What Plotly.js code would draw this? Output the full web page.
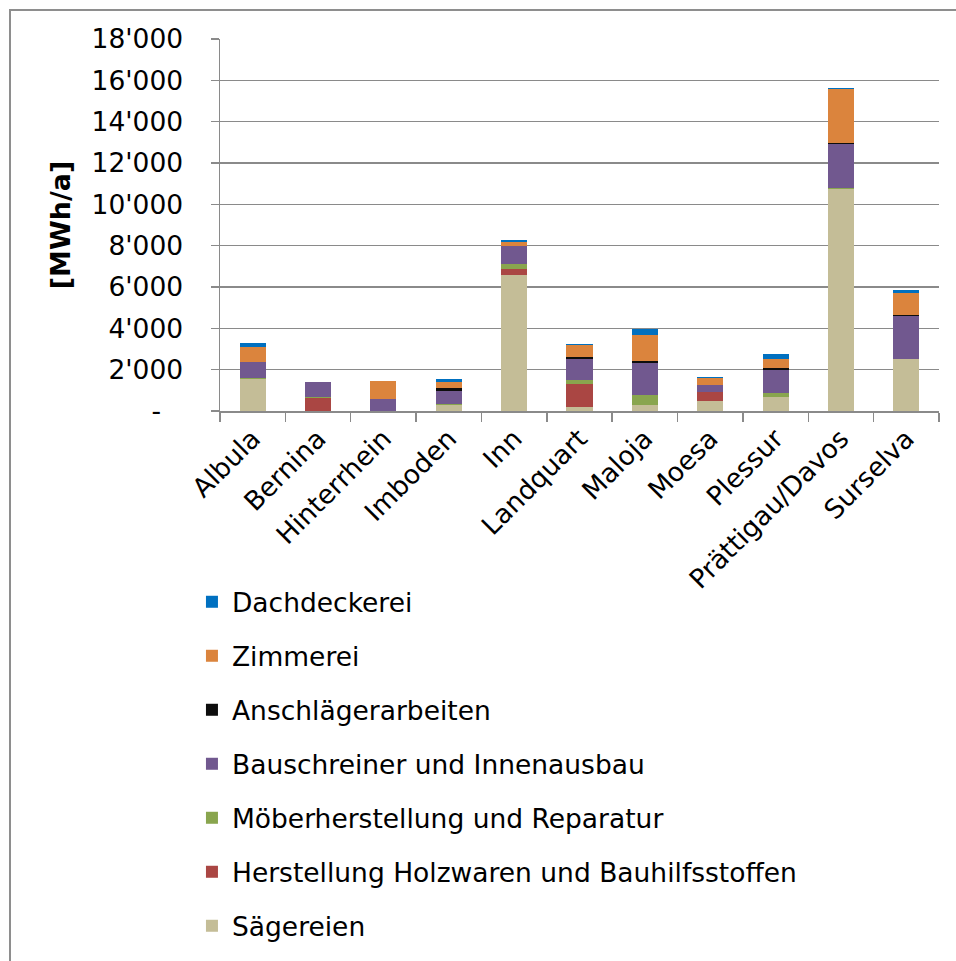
<!DOCTYPE html>
<html>
<head>
<meta charset="utf-8">
<script src="https://cdn.plot.ly/plotly-3.0.1.min.js"></script>
<style>
  html, body { margin: 0; padding: 0; background: #fff; }
  #wrap { position: relative; width: 956px; height: 961px; overflow: hidden; }
  #chart { position: absolute; left: 0; top: 0; width: 956px; height: 961px; }
  #frame { position: absolute; left: 9px; top: 9px; width: 980px; height: 990px;
           border-left: 2px solid #8e8e8e; border-top: 2px solid #8e8e8e; pointer-events: none; }
</style>
</head>
<body>
<div id="wrap">
  <div id="chart"></div>
  <div id="frame"></div>
</div>
<script>
// Regions (Regionen) of the canton
const regions = ['Albula', 'Bernina', 'Hinterrhein', 'Imboden', 'Inn', 'Landquart',
                 'Maloja', 'Moesa', 'Plessur', 'Prättigau/Davos', 'Surselva'];

// Energy use per branch, MWh/a
const saegereien     = [1550,   0,   0, 300, 6570,  210,  290, 460,  700, 10730, 2510];
const herstellung    = [   0, 630,   0,   0,  300, 1120,    0, 480,    0,     0,    0];
const moebel         = [  40,  60,   0,  60,  230,  190,  480,   0,  190,    70,    0];
const bauschreiner   = [ 800, 730, 560, 630,  880, 1020, 1550, 340, 1100,  2110, 2090];
const anschlaeger    = [   0,   0,   0, 140,    0,   50,  110,   0,  110,    50,   60];
const zimmerei       = [ 700,   0, 900, 280,  210,  600, 1250, 340,  430,  2620, 1060];
const dachdeckerei   = [ 200,   0,   0, 120,   70,   30,  290,  40,  240,    70,  150];

// Branch names, in stacking order (bottom to top)
const branchNames = ['Sägereien', 'Herstellung Holzwaren und Bauhilfsstoffen',
                     'Möberherstellung und Reparatur', 'Bauschreiner und Innenausbau',
                     'Anschlägerarbeiten', 'Zimmerei', 'Dachdeckerei'];
const branchValues = [saegereien, herstellung, moebel, bauschreiner, anschlaeger, zimmerei, dachdeckerei];
const branchColors = ['#c4bd97', '#aa4643', '#89a54e', '#71588f', '#0d0d0d', '#db843d', '#0070c0'];

// Y axis ticks
const yTickVals = [0, 2000, 4000, 6000, 8000, 10000, 12000, 14000, 16000, 18000];
const yTickText = ['-\u00a0\u00a0\u2009', "2'000", "4'000", "6'000", "8'000", "10'000",
                   "12'000", "14'000", "16'000", "18'000"];

const FONT = 'DejaVu Sans, Verdana, sans-serif';
const FS = 26.5;
const GRID = '#8a8a8a';

// Top of the stack is listed first in the legend
const traces = branchNames.map((name, i) => ({
  type: 'bar',
  name: name,
  x: regions,
  y: branchValues[i],
  legendgroup: 'g' + i,
  legendrank: branchNames.length - i,
  marker: { color: branchColors[i], line: { width: 0 } },
  hoverinfo: 'x+y+name'
}));

const layout = {
  width: 956,
  height: 961,
  paper_bgcolor: '#ffffff',
  plot_bgcolor: '#ffffff',
  font: { family: FONT, size: FS, color: '#000000' },
  margin: { l: 220, r: 17, t: 39, b: 550, pad: 0 },
  barmode: 'stack',
  bargap: 0.6,
  showlegend: true,
  // legend placed below the category labels
  legend: {
    xref: 'paper', yref: 'container',
    x: -0.039, xanchor: 'left',
    y: 0.3985, yanchor: 'top',
    traceorder: 'grouped',
    tracegroupgap: 16.55,
    font: { family: FONT, size: FS, color: '#000000' },
    bgcolor: 'rgba(0,0,0,0)',
    borderwidth: 0
  },
  xaxis: {
    type: 'category',
    automargin: false,
    showgrid: false,
    showline: true,
    linecolor: GRID,
    linewidth: 1.5,
    ticks: 'outside',
    tickson: 'boundaries',
    ticklen: 9,
    tickwidth: 1.5,
    tickcolor: GRID,
    tickangle: -45,
    tickfont: { family: FONT, size: FS, color: '#000000' },
    fixedrange: true
  },
  yaxis: {
    range: [0, 18000],
    automargin: false,
    tickvals: yTickVals,
    ticktext: yTickText,
    showgrid: true,
    gridcolor: GRID,
    gridwidth: 1.5,
    zeroline: false,
    showline: true,
    linecolor: GRID,
    linewidth: 1.5,
    ticks: 'outside',
    ticklen: 8,
    tickwidth: 1.5,
    tickcolor: GRID,
    ticklabelstandoff: 22,
    tickfont: { family: FONT, size: FS, color: '#000000' },
    title: {
      text: '<b>[MWh/a]</b>',
      font: { family: FONT, size: 27, color: '#000000' },
      standoff: 13
    },
    fixedrange: true
  }
};

Plotly.newPlot('chart', traces, layout, { staticPlot: true, displayModeBar: false });
</script>
</body>
</html>
